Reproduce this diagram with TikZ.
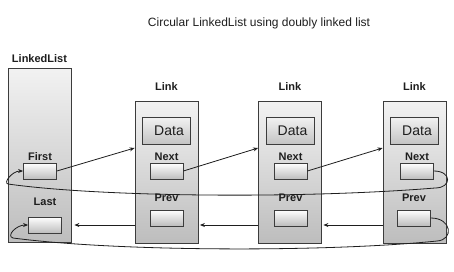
\documentclass[tikz,border=0pt]{standalone}
\usepackage{fontspec}
\setmainfont{Liberation Sans}
\usetikzlibrary{arrows.meta,positioning}
\definecolor{edge}{HTML}{3C3C3C}
\definecolor{boxtop}{HTML}{F2F2F2}
\definecolor{boxbot}{HTML}{BDBDBD}
\definecolor{ink}{HTML}{1E1E1E}
\tikzset{
  holder/.style={
    rectangle, draw=edge, line width=0.8pt,
    top color=boxtop, bottom color=boxbot,
    minimum width=63pt, minimum height=#1, inner sep=0pt
  },
  holder/.default=142pt,
  databox/.style={
    rectangle, draw=edge, line width=0.8pt,
    top color=boxtop, bottom color=boxbot!90,
    minimum width=48pt, minimum height=27pt, inner sep=0pt,
    font=\fontsize{14}{14}\selectfont, text=ink
  },
  slot/.style={
    rectangle, draw=edge, line width=0.8pt,
    top color=white, bottom color=boxbot,
    minimum width=33pt, minimum height=16pt, inner sep=0pt
  },
  tag/.style={
    font=\fontsize{11}{11}\selectfont\bfseries, text=ink, inner sep=0pt
  },
  ptr/.style={
    -{Stealth[length=5pt,width=4pt]}, line width=0.8pt, draw=ink
  },
}
\begin{document}
\begin{tikzpicture}[x=1pt,y=-1pt]
  \useasboundingbox[fill=white] (0,0) rectangle (454,271);

  \node[font=\fontsize{12}{12}\selectfont, text=ink] (title) at (259,23)
    {Circular LinkedList using doubly linked list};

  % list header
  \node[holder=174pt] (ll) at (39.5,155) {};
  \node[tag, above=5pt of ll] (lltag) {LinkedList};
  \node[slot] (first) at (40,171) {};
  \node[slot] (last) at (45,225) {};
  \node[tag, above=2pt of first] (firsttag) {First};
  \node[tag, above=11pt of last] (lasttag) {Last};

  % links
  \foreach \i/\x/\nx/\px in {1/166.5/166.5/166.5, 2/290/290.5/290.5, 3/414.5/417/414} {
    \node[holder] (l\i) at (\x,172) {};
    \node[tag, above=10pt of l\i] (lt\i) {Link};
    \node[databox] (d\i) at (\x,130.5) {\hspace{5pt}Data};
    \node[slot] (n\i) at (\nx,171) {};
    \node[slot] (p\i) at (\px,218) {};
    \node[tag, above=2pt of n\i] (nt\i) {Next};
    \node[tag, above=8pt of p\i] (pt\i) {Prev};
  }

  % next pointers
  \draw[ptr] (first.east) -- ([yshift=24pt]l1.west);
  \draw[ptr] (n1.east) -- ([yshift=24pt]l2.west);
  \draw[ptr] (n2.east) -- ([yshift=24pt]l3.west);

  % prev pointers
  \coordinate (pv1) at ([yshift=-53pt]l1.west);
  \coordinate (pv2) at ([yshift=-53pt]l2.west);
  \coordinate (pv3) at ([yshift=-53pt]l3.west);
  \draw[ptr, shorten >=1.5pt] (pv3) -- (pv3 -| l2.east);
  \draw[ptr, shorten >=1.5pt] (pv2) -- (pv2 -| l1.east);
  \draw[ptr, shorten >=3pt] (pv1) -- (pv1 -| ll.east);

  % wrap around
  \draw[ptr] (n3.east) .. controls (452,171) and (452,188) .. (435,188)
    .. controls (300,199) and (100,197) .. (8,184)
    .. controls (3,183) and (12,171) .. (first.west);
  \draw[ptr] (p3.east) .. controls (452,218) and (454,240) .. (437,241)
    .. controls (330,252) and (120,252) .. (13,238)
    .. controls (6,236) and (16,225) .. (last.west);
\end{tikzpicture}
\end{document}
